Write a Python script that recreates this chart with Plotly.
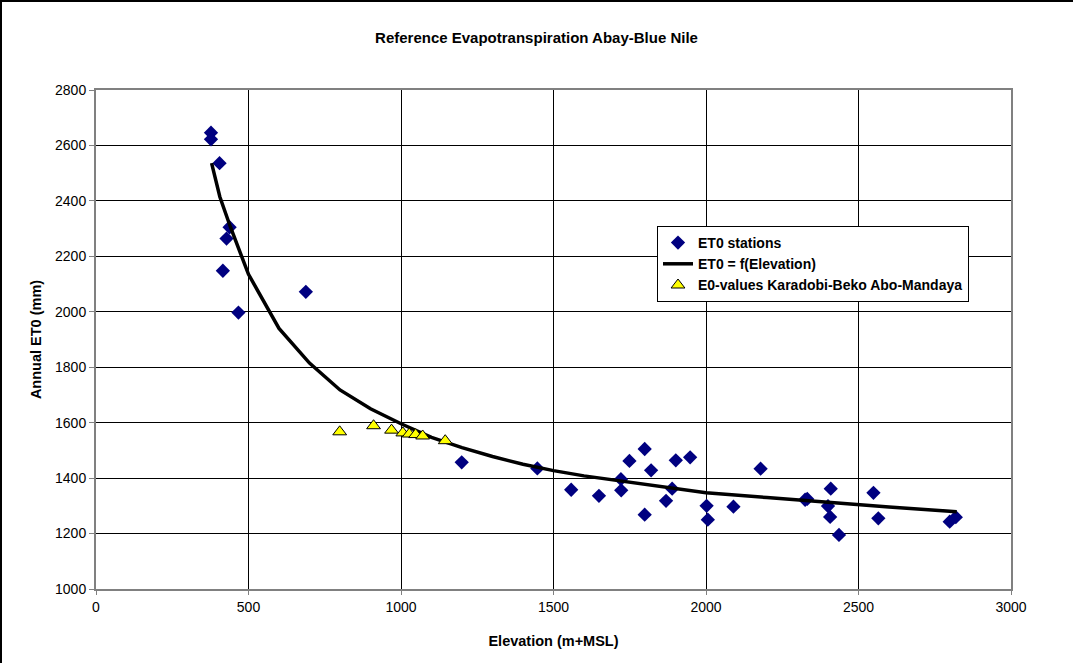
import plotly.graph_objects as go

# ET0 stations
station_elev = [377, 377, 405, 438, 428, 416, 467, 688, 1199, 1447, 1558, 1649, 1721, 1722,
                1749, 1799, 1820, 1799, 1869, 1889, 1901, 1948, 2002, 2006, 2090, 2179,
                2325, 2332, 2409, 2400, 2407, 2436, 2549, 2565, 2799, 2819]
station_et0 = [2646, 2622, 2536, 2305, 2264, 2148, 1997, 2072, 1457, 1435, 1358, 1336, 1396, 1356,
               1462, 1505, 1428, 1268, 1318, 1362, 1464, 1475, 1300, 1250, 1297, 1434,
               1322, 1325, 1362, 1299, 1260, 1195, 1347, 1255, 1243, 1259]

# ET0 = f(Elevation) curve
curve_elev = [379, 406, 441, 500, 600, 700, 800, 900, 1000, 1100, 1200, 1300, 1400, 1500,
              1600, 1700, 1800, 1900, 2000, 2200, 2400, 2600, 2822]
curve_et0 = [2536, 2415, 2305, 2135, 1940, 1815, 1718, 1650, 1596, 1547, 1510, 1478, 1450, 1427,
             1408, 1393, 1378, 1362, 1347, 1330, 1312, 1296, 1279]

# E0-values Karadobi-Beko Abo-Mandaya
site_elev = [799, 910, 969, 1006, 1027, 1048, 1071, 1145]
site_et0 = [1567, 1589, 1573, 1563, 1559, 1557, 1552, 1535]

x_ticks = [0, 500, 1000, 1500, 2000, 2500, 3000]
y_ticks = [1000, 1200, 1400, 1600, 1800, 2000, 2200, 2400, 2600, 2800]

FONT = "Liberation Sans, Arial, sans-serif"

fig = go.Figure()
fig.add_trace(go.Scatter(
    x=station_elev, y=station_et0, mode="markers", name="<b>ET0 stations</b>",
    marker=dict(symbol="diamond", size=11, color="#000080", line=dict(width=0)),
))
fig.add_trace(go.Scatter(
    x=curve_elev, y=curve_et0, mode="lines", name="<b>ET0 = f(Elevation)</b>",
    line=dict(color="black", width=3.5),
))
fig.add_trace(go.Scatter(
    x=site_elev, y=site_et0, mode="markers", name="<b>E0-values Karadobi-Beko Abo-Mandaya</b>",
    marker=dict(symbol="triangle-up", size=12, color="#FFFF00", line=dict(color="black", width=1)),
))

L, R, T, B = 96, 62, 90, 74
W, H = 1073, 663
pw, ph = W - L - R, H - T - B

def px_x(p):
    return (p - L) / pw

def px_y(p):
    return (H - B - p) / ph

fig.update_layout(
    width=W, height=H,
    margin=dict(l=L, r=R, t=T, b=B),
    paper_bgcolor="white", plot_bgcolor="white",
    font=dict(family=FONT, size=14, color="black"),
    title=dict(text="<b>Reference Evapotranspiration Abay-Blue Nile</b>",
               x=0.5, xref="container", xanchor="center",
               y=1 - 38 / H, yref="container", yanchor="middle",
               font=dict(family=FONT, size=15, color="black")),
    showlegend=True,
    legend=dict(x=px_x(657), y=px_y(226), xanchor="left", yanchor="top",
                bgcolor="white", bordercolor="black", borderwidth=1,
                font=dict(family=FONT, size=14, color="black"),
                tracegroupgap=0, itemwidth=30),
    shapes=[
        dict(type="line", xref="paper", yref="paper",
             x0=px_x(0), x1=px_x(W), y0=px_y(1), y1=px_y(1),
             line=dict(color="black", width=2)),
        dict(type="line", xref="paper", yref="paper",
             x0=px_x(1), x1=px_x(1), y0=px_y(0), y1=px_y(H),
             line=dict(color="black", width=2)),
    ],
)
fig.update_xaxes(
    range=[0, 3000], tickvals=x_ticks, ticktext=[str(v) for v in x_ticks],
    showgrid=True, gridcolor="black", gridwidth=1,
    showline=True, linecolor="#808080", linewidth=2, mirror=True,
    ticks="outside", ticklen=4, tickcolor="#808080",
    zeroline=False,
    title=dict(text="<b>Elevation (m+MSL)</b>", font=dict(family=FONT, size=14.5), standoff=22),
    tickfont=dict(family=FONT, size=14),
)
fig.update_yaxes(
    range=[1000, 2800], tickvals=y_ticks, ticktext=[str(v) for v in y_ticks],
    showgrid=True, gridcolor="black", gridwidth=1,
    showline=True, linecolor="#808080", linewidth=2, mirror=True,
    ticks="outside", ticklen=5, tickcolor="#808080",
    zeroline=False,
    title=dict(text="<b>Annual ET0 (mm)</b>", font=dict(family=FONT, size=14.5), standoff=10),
    tickfont=dict(family=FONT, size=14),
)

fig.write_html("out.html", config={"displayModeBar": False},
               post_script="document.body.style.margin='0';"
                           "document.body.style.overflow='hidden';"
                           "document.documentElement.style.overflow='hidden';")
